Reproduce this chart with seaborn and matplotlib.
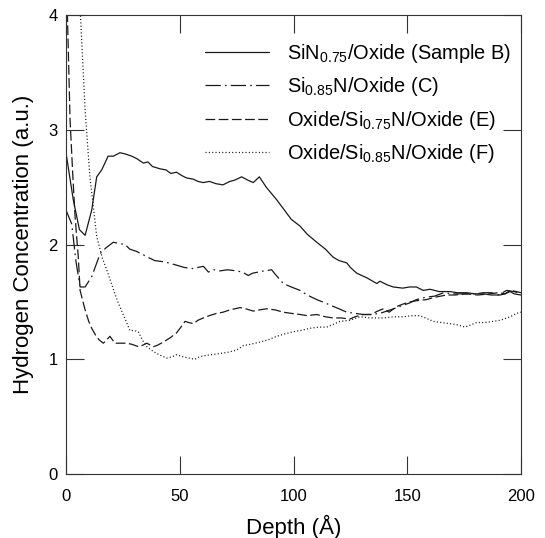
import numpy as np
import pandas as pd
import matplotlib
matplotlib.use("Agg")
import matplotlib.pyplot as plt
import seaborn as sns

# ---- data ----
b_x = [0, 3.2, 5.9, 8.4, 11.3, 13.5, 15.7, 18.5, 20.8, 23.7, 26, 28.9, 31, 34, 36, 38, 41.3, 44, 46,
       48.6, 51, 53, 55.9, 58, 60.3, 63, 66, 69, 72, 74, 77.2, 80, 82.3, 85, 88, 92.6, 96, 99, 102.9,
       106, 110.2, 114, 117.4, 120, 123.4, 125, 127.8, 132.2, 136.6, 138, 141, 143.8, 148, 151, 154,
       157, 160, 164, 168.8, 172, 176, 180, 183.4, 187, 190.8, 193, 195.2, 197, 200]
b_y = [2.80, 2.39, 2.13, 2.08, 2.30, 2.59, 2.65, 2.77, 2.77, 2.80, 2.79, 2.77, 2.75, 2.71, 2.72, 2.68,
       2.66, 2.65, 2.62, 2.63, 2.60, 2.58, 2.57, 2.55, 2.54, 2.55, 2.53, 2.52, 2.55, 2.56, 2.59, 2.56,
       2.54, 2.59, 2.50, 2.39, 2.30, 2.22, 2.16, 2.09, 2.02, 1.96, 1.89, 1.86, 1.84, 1.80, 1.75, 1.71,
       1.66, 1.68, 1.65, 1.63, 1.62, 1.63, 1.63, 1.60, 1.61, 1.59, 1.59, 1.58, 1.58, 1.57, 1.57, 1.56,
       1.56, 1.57, 1.59, 1.57, 1.56]

c_x = [0, 2.5, 4.4, 6.2, 8.4, 11.3, 15, 17.5, 20.8, 23, 26, 28, 31, 34, 36.9, 39, 42.8, 45, 48.6, 52,
       56, 58, 60.4, 62.6, 65, 67.7, 71, 75, 77.5, 80.1, 82, 84.5, 87, 90.4, 92, 95.5, 99, 102.9, 106,
       110.2, 114, 117.5, 120, 123.4, 127, 130.7, 134, 138, 141, 144, 148, 151, 154, 158, 162, 166,
       170, 176, 180, 183.4, 187, 190, 193.7, 197, 200]
c_y = [2.30, 2.18, 1.85, 1.63, 1.63, 1.72, 1.92, 1.97, 2.02, 2.01, 2.00, 1.96, 1.94, 1.91, 1.88, 1.86,
       1.85, 1.84, 1.82, 1.80, 1.79, 1.80, 1.81, 1.76, 1.78, 1.77, 1.78, 1.77, 1.76, 1.73, 1.75, 1.76,
       1.77, 1.78, 1.74, 1.66, 1.63, 1.60, 1.56, 1.52, 1.49, 1.46, 1.44, 1.41, 1.40, 1.39, 1.39, 1.40,
       1.42, 1.44, 1.47, 1.49, 1.52, 1.54, 1.55, 1.58, 1.57, 1.57, 1.57, 1.58, 1.58, 1.56, 1.60, 1.59,
       1.57]

e_x = [0, 1, 1.8, 3, 4, 5.4, 6.2, 8.4, 10, 11.3, 13, 14.5, 16.4, 17.5, 19.3, 21.5, 24, 26.7, 29, 31.8,
       33.5, 35.5, 38.4, 40, 42.8, 46, 48.6, 50.5, 52.3, 54, 56, 58, 60.4, 63, 66.2, 69, 72, 76.5, 79,
       82.3, 85, 88.2, 92, 95.5, 99, 102.9, 106, 110.2, 114, 117.5, 121, 124.8, 127, 130.7, 134, 137,
       139.5, 142, 145.4, 148, 151.2, 154, 158.5, 162, 167.3, 171, 176, 181, 186.4, 190, 193, 195.2,
       198, 200]
e_y = [4.50, 3.70, 3.08, 2.60, 2.24, 1.89, 1.60, 1.43, 1.33, 1.27, 1.21, 1.17, 1.14, 1.16, 1.20, 1.14,
       1.14, 1.14, 1.13, 1.11, 1.12, 1.14, 1.11, 1.12, 1.15, 1.19, 1.23, 1.28, 1.33, 1.32, 1.31, 1.34,
       1.36, 1.38, 1.40, 1.41, 1.43, 1.45, 1.44, 1.42, 1.43, 1.44, 1.43, 1.41, 1.40, 1.39, 1.38, 1.39,
       1.37, 1.36, 1.36, 1.35, 1.37, 1.39, 1.39, 1.42, 1.44, 1.41, 1.46, 1.48, 1.50, 1.51, 1.52, 1.54,
       1.56, 1.56, 1.57, 1.56, 1.57, 1.58, 1.57, 1.60, 1.59, 1.58]

f_x = [4, 5.5, 6.4, 8.4, 10.5, 13.5, 16, 17.9, 21.5, 23, 26, 28.1, 30, 31.8, 33.5, 35.5, 37.5, 39.9, 42,
       44.3, 46.5, 48.6, 51.6, 54, 56.7, 58.5, 60.4, 64, 67.7, 71, 75, 78, 81, 85.3, 89, 92.6, 96, 99.9,
       103, 107.3, 111, 114.6, 117, 120.4, 124.8, 129.2, 134, 139.5, 144, 148.3, 152, 155.6, 158,
       161.5, 165, 168.8, 172, 175.4, 178, 180.5, 184, 187.8, 191, 195.2, 198, 200]
f_y = [5.60, 4.60, 3.98, 3.17, 2.59, 2.07, 1.88, 1.78, 1.57, 1.49, 1.35, 1.25, 1.25, 1.24, 1.17, 1.11,
       1.08, 1.05, 1.03, 1.01, 1.02, 1.04, 1.02, 1.01, 1.00, 1.02, 1.03, 1.04, 1.05, 1.06, 1.08, 1.12,
       1.13, 1.15, 1.17, 1.20, 1.22, 1.24, 1.25, 1.27, 1.28, 1.28, 1.30, 1.33, 1.34, 1.37, 1.36, 1.36,
       1.37, 1.37, 1.38, 1.38, 1.36, 1.33, 1.32, 1.31, 1.30, 1.28, 1.30, 1.32, 1.32, 1.33, 1.34, 1.37,
       1.40, 1.41]

labels = [r"SiN$_{0.75}$/Oxide (Sample B)",
          r"Si$_{0.85}$N/Oxide (C)",
          r"Oxide/Si$_{0.75}$N/Oxide (E)",
          r"Oxide/Si$_{0.85}$N/Oxide (F)"]
x_ticks = [0, 50, 100, 150, 200]
y_ticks = [0, 1, 2, 3, 4]

# ---- style ----
sns.set_style("ticks")
plt.rcParams["font.family"] = ["Liberation Sans", "DejaVu Sans"]
plt.rcParams["mathtext.fontset"] = "custom"
plt.rcParams["mathtext.rm"] = "Liberation Sans"
plt.rcParams["mathtext.it"] = "Liberation Sans:italic"
plt.rcParams["mathtext.default"] = "regular"
plt.rcParams["text.color"] = "black"
plt.rcParams["axes.labelcolor"] = "black"
plt.rcParams["xtick.labelcolor"] = "black"
plt.rcParams["ytick.labelcolor"] = "black"

frames = []
for lab, xs, ys in zip(labels, [b_x, c_x, e_x, f_x], [b_y, c_y, e_y, f_y]):
    frames.append(pd.DataFrame({"depth": xs, "conc": ys, "sample": lab}))
df = pd.concat(frames, ignore_index=True)

lw = 0.9
dashes = {
    labels[0]: "",
    labels[1]: (11 / lw, 3 / lw, 1.2 / lw, 3 / lw),
    labels[2]: (7 / lw, 2.5 / lw),
    labels[3]: (0.8 / lw, 1.6 / lw),
}

fig = plt.figure(figsize=(5.45, 5.38), dpi=100)
ax = fig.add_axes([0.1211, 0.119, 0.8349, 0.853])

sns.lineplot(data=df, x="depth", y="conc", hue="sample", style="sample",
             palette=["#1a1a1a"] * 4, dashes=dashes, estimator=None, sort=False,
             linewidth=lw, legend=False, ax=ax)

ax.set_xlim(0, 200)
ax.set_ylim(0, 4)
ax.set_xticks(x_ticks)
ax.set_yticks(y_ticks)
ax.tick_params(direction="in", length=13, width=0.8, top=True, right=True,
               labelsize=12, color="#333333", labelcolor="black")
ax.tick_params(axis="x", pad=11)
ax.tick_params(axis="y", pad=6)
for s in ax.spines.values():
    s.set_linewidth(0.8)
    s.set_color("#333333")
    s.set_visible(True)

ax.set_xlabel("Depth (Å)", fontsize=16, labelpad=8, color="black")
ax.set_ylabel("Hydrogen Concentration (a.u.)", fontsize=16, labelpad=10, color="black")

handles = ax.get_lines()[:4]
leg = ax.legend(handles, labels, loc="upper left", bbox_to_anchor=(0.265, 0.9815),
                frameon=False, fontsize=14.4, handlelength=3.2, handletextpad=0.9,
                labelspacing=0.53)
for t in leg.get_texts():
    t.set_color("black")

fig.savefig("out.png", dpi=100)
